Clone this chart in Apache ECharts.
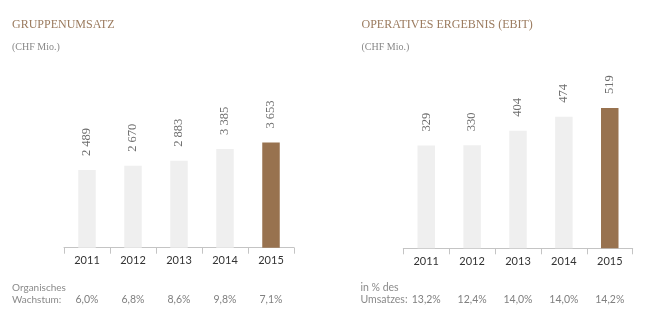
<!DOCTYPE html>
<html><head><meta charset="utf-8">
<script src="https://cdn.jsdelivr.net/npm/echarts@6/dist/echarts.min.js"></script>
<style>html,body{margin:0;padding:0;background:#fff}#c{width:647px;height:327px}</style>
</head><body><div id="c"></div>
<script>
const years = ['2011','2012','2013','2014','2015'];
const umsatz = [2489, 2670, 2883, 3385, 3653];
const wachstum = ['6,0%','6,8%','8,6%','9,8%','7,1%'];
const ebit = [329, 330, 404, 474, 519];
const ebitMarge = ['13,2%','12,4%','14,0%','14,0%','14,2%'];
const umsatzLabels = ['2 489','2 670','2 883','3 385','3 653'];

const LIGHT = '#efefef', DARK = '#98724f';
const serif = '"Liberation Serif", serif';
const sans = 'Lato, "Open Sans", sans-serif';

function barData(vals){
  return vals.map((v,i)=>({value:v,itemStyle:{color:i===vals.length-1?DARK:LIGHT}}));
}
function xAx(gi, pcts){
  return {
    type:'category', gridIndex:gi, data:years, boundaryGap:true,
    axisLine:{onZero:false,lineStyle:{color:'#c4c4c4',width:1}},
    axisTick:{show:true,length:6,lineStyle:{color:'#c4c4c4'}},
    axisLabel:{
      margin:5, interval:0,
      formatter:(val, idx)=>'{y|'+val+'}\n{s| }\n{p|'+pcts[idx]+'}',
      rich:{
        y:{fontFamily:sans,fontSize:11,color:'#333',lineHeight:16},
        s:{fontSize:8,lineHeight:22.6},
        p:{fontFamily:sans,fontSize:10.5,color:'#808080',lineHeight:16}
      }
    }
  };
}
function lbl(fmt){
  return {show:true,position:'top',distance:14,rotate:90,align:'left',verticalAlign:'middle',
    fontFamily:serif,fontSize:12.5,color:'#6e6e6e',formatter:fmt};
}
const chart = echarts.init(document.getElementById('c'));
chart.setOption({
  animation:false,
  backgroundColor:'#fff',
  grid:[
    {left:64, width:230, top:87.2, bottom:79.3},
    {left:403.3, width:229.4, top:91.9, bottom:78.7}
  ],
  xAxis:[xAx(0, wachstum), xAx(1, ebitMarge)],
  yAxis:[
    {type:'value',gridIndex:0,min:-800,max:6000,startValue:-800,show:false,splitLine:{show:false}},
    {type:'value',gridIndex:1,min:-190,max:600,startValue:-190,show:false,splitLine:{show:false}}
  ],
  series:[
    {type:'bar',xAxisIndex:0,yAxisIndex:0,barWidth:17.5,data:barData(umsatz),
     label:lbl(p=>umsatzLabels[p.dataIndex])},
    {type:'bar',xAxisIndex:1,yAxisIndex:1,barWidth:17.5,data:barData(ebit),
     label:lbl(p=>String(p.value))}
  ],
  graphic:[
    {type:'text',left:12,top:19,style:{text:'GRUPPENUMSATZ',font:'12px '+serif,fill:'#9b7b5f'}},
    {type:'text',left:12,top:42.5,style:{text:'(CHF Mio.)',font:'10px '+serif,fill:'#888'}},
    {type:'text',left:361.5,top:19,style:{text:'OPERATIVES ERGEBNIS (EBIT)',font:'12px '+serif,fill:'#9b7b5f'}},
    {type:'text',left:361.5,top:42.5,style:{text:'(CHF Mio.)',font:'10px '+serif,fill:'#888'}},
    {type:'text',left:12,top:282,style:{text:'Organisches\nWachstum:',font:'10px '+sans,fill:'#8a8a8a',lineHeight:12}},
    {type:'text',left:360.5,top:282,style:{text:'in % des\nUmsatzes:',font:'10.5px '+sans,fill:'#8a8a8a',lineHeight:12}}
  ]
});
</script></body></html>
